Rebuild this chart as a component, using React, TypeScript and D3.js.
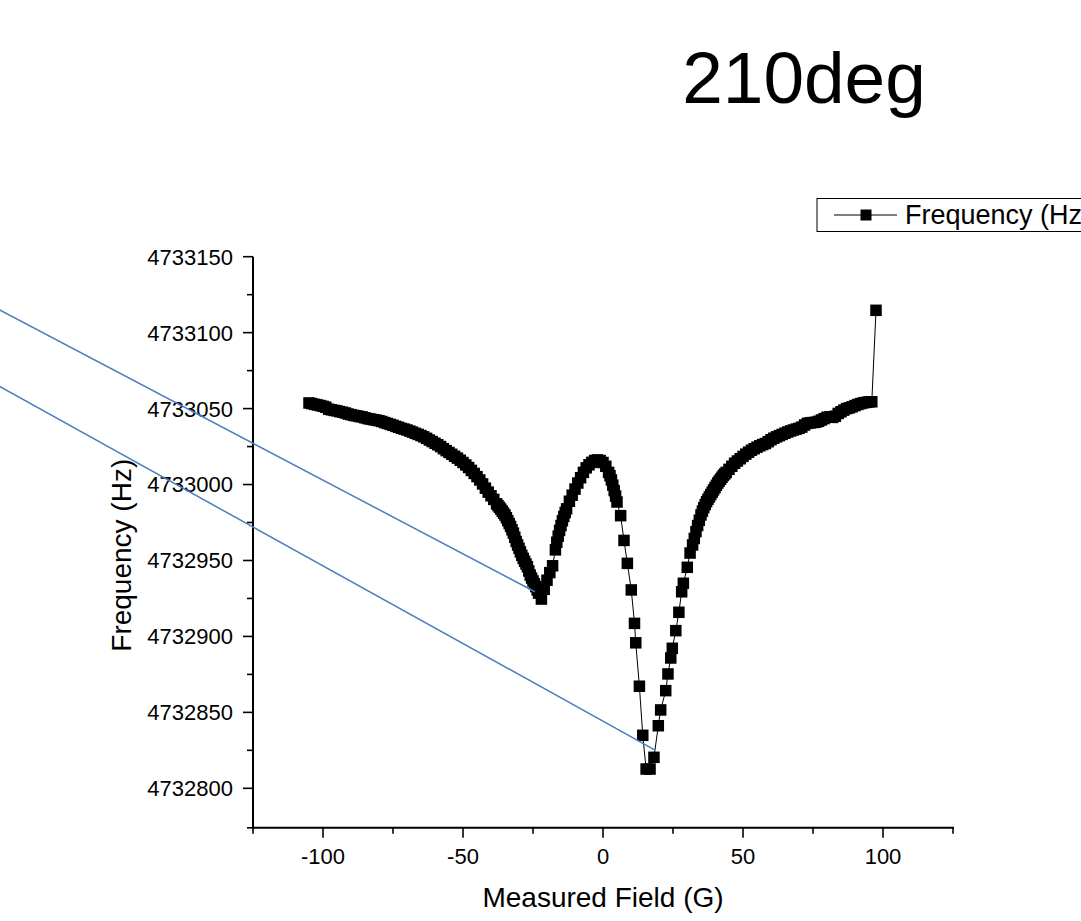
import React from 'react';
import * as d3 from 'd3';

// Measured field (G)
const fieldG = [
  -105, -104, -103, -102, -101, -100, -99, -98, -97, -96, -95, -94, -93, -92, -91, -90, -89, -88, -87, -86,
  -85, -84, -83, -82, -81, -80, -79, -78, -77, -76, -75, -74, -73, -72, -71, -70, -69, -68, -67, -66,
  -65, -64, -63, -62, -61, -60, -59, -58, -57, -56, -55, -54, -53, -52, -51, -50, -49, -48, -47, -46,
  -45, -44, -43, -42, -41, -40, -39, -38,
  -37.5, -37, -36.5, -36, -35.5, -35, -34.5, -34, -33.5, -33, -32.5, -32, -31.5, -31, -30.5, -30,
  -29.5, -29, -28.5, -28, -27.5, -27, -26.5, -26, -25.5, -25, -24.5, -24, -23.5, -23, -22,
  -21, -20, -19, -18, -17, -16.5, -16, -15.5, -15, -14.5, -14, -13.5, -13, -12, -11, -10, -9, -8, -7,
  -6, -5, -4, -3, -2, -1, 0, 1, 2, 2.5, 3, 3.5, 4, 4.5, 5,
  6.3, 7.5, 8.7, 10.1, 11.25, 11.7, 13.0, 14.2, 15.4, 16.8, 18.2, 19.75, 20.6, 22.4, 23.2, 24.2, 24.75,
  26.0, 27.1, 28.1, 28.7, 30.1, 31.1, 32.0,
  32.6, 33.2, 33.8, 34.4, 35.0, 35.5, 36.0, 36.5, 37.0, 37.5, 38.0, 38.5, 39.0, 39.5, 40.0, 40.5, 41.0,
  41.5, 42.0, 42.5, 43.0, 43.5, 44.0,
  45, 46, 47, 48, 49, 50, 51, 52, 53, 54, 55, 56, 57,
  58, 59, 60, 61, 62, 63, 64, 65, 66, 67, 68, 69, 70, 71, 72, 73, 74, 75, 76, 77, 78, 79, 80, 81, 82,
  83, 84, 85, 86, 87, 88, 89, 90, 91, 92, 93, 94, 95, 96,
  97.5,
];

// Frequency (Hz)
const freqHz = [
  4733053.7, 4733053.3, 4733052.8, 4733052.4, 4733052.0, 4733051.5, 4733050.9, 4733049.6, 4733049.2, 4733048.8,
  4733048.5, 4733048.0, 4733047.6, 4733047.1, 4733046.4, 4733046.0, 4733045.5, 4733045.2, 4733044.8, 4733044.5,
  4733043.9, 4733043.4, 4733043.1, 4733042.7, 4733042.4, 4733042.0, 4733041.5, 4733040.8, 4733040.2, 4733039.6,
  4733039.0, 4733038.3, 4733037.7, 4733037.0, 4733036.5, 4733035.9, 4733035.2, 4733034.5, 4733033.7, 4733033.0,
  4733032.2, 4733031.4, 4733030.4, 4733029.3, 4733028.3, 4733027.2, 4733026.2, 4733025.0, 4733023.6, 4733022.3,
  4733021.1, 4733019.9, 4733018.6, 4733017.4, 4733016.0, 4733014.5, 4733012.9, 4733011.2, 4733009.3, 4733007.3,
  4733005.2, 4733003.0, 4733000.4, 4732997.6, 4732995.0, 4732992.6, 4732990.2, 4732987.3,
  4732986.1, 4732985.0, 4732983.8, 4732982.5, 4732981.2, 4732979.9, 4732978.1, 4732976.2, 4732974.3, 4732972.4,
  4732970.2, 4732968.0, 4732965.3, 4732962.5, 4732960.2, 4732958.0,
  4732955.7, 4732953.4, 4732951.4, 4732949.5, 4732947.7, 4732945.9, 4732943.1, 4732940.4, 4732938.4, 4732936.5,
  4732934.6, 4732932.8, 4732930.6, 4732928.5, 4732924.6,
  4732931.0, 4732937.0, 4732942.0, 4732946.5, 4732957.0, 4732962.0, 4732966.0, 4732969.8, 4732973.0, 4732976.2,
  4732979.0, 4732981.6, 4732984.0, 4732989.0, 4732993.0, 4732997.0, 4733001.0, 4733004.5, 4733008.0,
  4733011.0, 4733013.0, 4733014.6, 4733015.8, 4733016.2, 4733015.8, 4733014.5, 4733012.0, 4733008.0, 4733005.8,
  4733003.0, 4732999.6, 4732996.0, 4732992.4, 4732988.5,
  4732979.5, 4732963.2, 4732948.1, 4732930.6, 4732908.6, 4732895.8, 4732867.2, 4732834.9, 4732812.7, 4732812.7,
  4732820.4, 4732841.2, 4732851.6, 4732864.3, 4732875.3, 4732885.8, 4732892.2, 4732903.8, 4732915.9, 4732929.4,
  4732935.0, 4732945.5, 4732954.9, 4732960.2,
  4732964.5, 4732969.0, 4732973.0, 4732976.5, 4732980.0, 4732982.5, 4732984.8, 4732986.8, 4732988.7, 4732990.3,
  4732991.9, 4732993.4, 4732995.0, 4732996.5, 4732998.0, 4732999.5, 4733001.0, 4733002.3, 4733003.5, 4733004.8,
  4733006.0, 4733007.0, 4733008.0,
  4733010.0, 4733012.0, 4733014.0, 4733015.5, 4733017.0, 4733018.5, 4733020.0, 4733021.3,
  4733022.6, 4733023.6, 4733024.6, 4733025.5, 4733026.3, 4733027.0, 4733028.2, 4733029.5, 4733030.5, 4733031.4,
  4733032.2, 4733033.0, 4733033.8, 4733034.6, 4733035.3, 4733035.9, 4733036.5, 4733037.0, 4733037.8, 4733039.2,
  4733040.3, 4733040.6, 4733040.8, 4733041.0, 4733041.6, 4733042.5, 4733043.4, 4733044.3, 4733044.5, 4733044.2,
  4733045.0, 4733046.8, 4733047.9, 4733049.0, 4733050.0, 4733050.5, 4733051.2, 4733052.0, 4733052.7, 4733053.3,
  4733053.8, 4733054.1, 4733054.4, 4733054.5,
  4733114.7,
];

const xMajorTicks = [-100, -50, 0, 50, 100];
const xMinorTicks = [-125, -75, -25, 25, 75, 125];
const yMajorTicks = [4732800, 4732850, 4732900, 4732950, 4733000, 4733050, 4733100, 4733150];
const yMinorTicks = [4732825, 4732875, 4732925, 4732975, 4733025, 4733075, 4733125];

// annotation lines (blue), in data coordinates
const annotStartG = [-240, -240];
const annotStartHz = [4733138.8, 4733089.6];
const annotEndG = [-24.3, 18.6];
const annotEndHz = [4732929.4, 4732825.2];

const titleText = '210deg';
const xTitle = 'Measured Field (G)';
const yTitle = 'Frequency (Hz)';
const legendLabel = 'Frequency (Hz)';

const FONT = '"Liberation Sans", Arial, sans-serif';

export default function App() {
  const W = 1081;
  const H = 921;
  const x = d3.scaleLinear().domain([-125, 125]).range([253, 953]);
  const y = d3.scaleLinear().domain([4732774, 4733150]).range([827.8, 256.7]);
  const x0 = x.range()[0];
  const x1 = x.range()[1];
  const yb = y.range()[0];
  const yt = y.range()[1];

  const pts = fieldG.map((g, i) => [x(g), y(freqHz[i])] as [number, number]);
  const line = d3.line()(pts) || '';
  const ms = 11.5;

  return (
    <div style={{ position: 'absolute', left: 0, top: 0, width: W, height: H, overflow: 'hidden' }}>
      <svg width={W} height={H} style={{ display: 'block', background: '#fff' }} fontFamily={FONT}>
        <rect x={0} y={0} width={W} height={H} fill="#fff" />
        <text x={804} y={103} fontSize={73} textAnchor="middle" fill="#000">{titleText}</text>

        {/* axes */}
        <line x1={x0} y1={yt} x2={x0} y2={yb + 1} stroke="#000" strokeWidth={2} />
        <line x1={x0 - 1} y1={yb} x2={x1 + 1} y2={yb} stroke="#000" strokeWidth={2} />
        {yMajorTicks.map((t) => (
          <g key={'ym' + t}>
            <line x1={x0 - 10} x2={x0} y1={y(t)} y2={y(t)} stroke="#000" strokeWidth={1.6} />
            <text x={x0 - 20} y={y(t)} dy="0.36em" fontSize={22} textAnchor="end" fill="#000">{t}</text>
          </g>
        ))}
        {yMinorTicks.map((t) => (
          <line key={'yn' + t} x1={x0 - 6} x2={x0} y1={y(t)} y2={y(t)} stroke="#000" strokeWidth={1.6} />
        ))}
        <line x1={x0 - 6} x2={x0} y1={yb} y2={yb} stroke="#000" strokeWidth={1.6} />
        {xMajorTicks.map((t) => (
          <g key={'xm' + t}>
            <line x1={x(t)} x2={x(t)} y1={yb} y2={yb + 10} stroke="#000" strokeWidth={1.6} />
            <text x={x(t)} y={yb + 36} fontSize={22} textAnchor="middle" fill="#000">{t}</text>
          </g>
        ))}
        {xMinorTicks.map((t) => (
          <line key={'xn' + t} x1={x(t)} x2={x(t)} y1={yb} y2={yb + 6} stroke="#000" strokeWidth={1.6} />
        ))}
        <text x={(x0 + x1) / 2} y={907} fontSize={28} textAnchor="middle" fill="#000">{xTitle}</text>
        <text transform={`translate(131, ${(yt + yb) / 2 + 13}) rotate(-90)`} fontSize={28} textAnchor="middle" fill="#000">{yTitle}</text>

        {/* data */}
        <path d={line} fill="none" stroke="#000" strokeWidth={1} />
        {pts.map((p, i) => (
          <rect key={i} x={p[0] - ms / 2} y={p[1] - ms / 2} width={ms} height={ms} fill="#000" />
        ))}

        {/* annotation lines */}
        {annotStartG.map((g, i) => (
          <line key={'a' + i} x1={x(g)} y1={y(annotStartHz[i])} x2={x(annotEndG[i])} y2={y(annotEndHz[i])}
            stroke="#4a7ebf" strokeWidth={1.5} />
        ))}

        {/* legend */}
        <rect x={817} y={198.5} width={300} height={33} fill="#fff" stroke="#000" strokeWidth={1} />
        <line x1={834} x2={897} y1={215} y2={215} stroke="#000" strokeWidth={1} />
        <rect x={866 - 5.5} y={215 - 5.5} width={11} height={11} fill="#000" />
        <text x={905} y={224} fontSize={27} fill="#000">{legendLabel}</text>
      </svg>
    </div>
  );
}
